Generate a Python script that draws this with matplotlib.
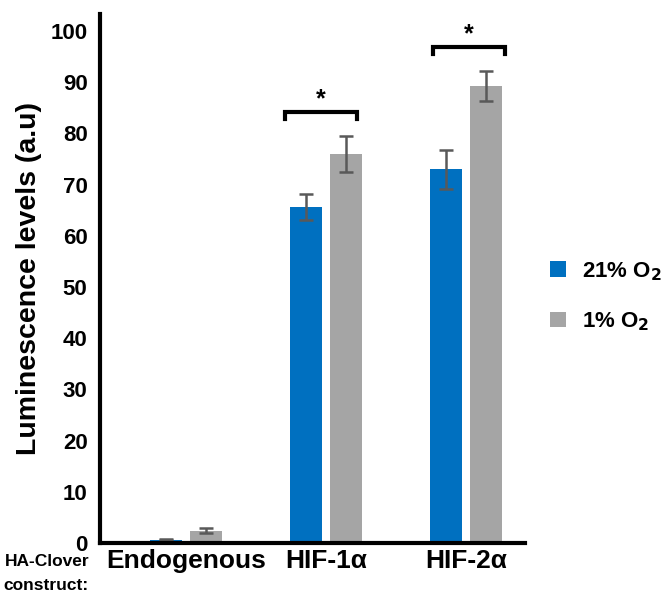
import matplotlib
matplotlib.use("Agg")
import matplotlib.pyplot as plt
import numpy as np

categories = ["Endogenous", "HIF-1\u03b1", "HIF-2\u03b1"]
series_names = ["21% O$_2$", "1% O$_2$"]
normoxia = [0.6, 65.6, 73.0]
normoxia_err = [0.1, 2.6, 3.8]
hypoxia = [2.4, 76.0, 89.3]
hypoxia_err = [0.5, 3.5, 2.9]
yticks = [0, 10, 20, 30, 40, 50, 60, 70, 80, 90, 100]
sig_groups = [1, 2]
sig_shift = [-0.035, 0.02]

BLUE = "#0070C0"
GRAY = "#A5A5A5"
ERR = "#595959"
FONT = ["Liberation Sans", "DejaVu Sans"]
plt.rcParams["font.family"] = FONT
plt.rcParams["font.weight"] = "bold"

fig = plt.figure(figsize=(6.71, 5.93), dpi=100)
W, H = 671, 593
x0, x1 = 100, 525
y0, y1 = 543, 14
ax = fig.add_axes([x0 / W, 1 - y0 / H, (x1 - x0) / W, (y0 - y1) / H])

x = np.arange(len(categories))
bw = 0.23
off = 0.143
ax.bar(x - off, normoxia, bw, color=BLUE, yerr=normoxia_err, capsize=5,
       error_kw=dict(ecolor=ERR, elinewidth=1.8, capthick=1.8), label=series_names[0], zorder=2)
ax.bar(x + off, hypoxia, bw, color=GRAY, yerr=hypoxia_err, capsize=5,
       error_kw=dict(ecolor=ERR, elinewidth=1.8, capthick=1.8), label=series_names[1], zorder=2)

ax.set_xlim(-0.614, 2.42)
ax.set_ylim(0, 103.3)
ax.set_yticks(yticks)
ax.set_yticklabels([str(t) for t in yticks], fontsize=16, fontweight="bold")
ax.set_xticks(x)
ax.set_xticklabels(categories, fontsize=19, fontweight="bold")
ax.tick_params(axis="y", length=0, pad=9)
ax.tick_params(axis="x", length=0, pad=4)
for s in ["top", "right"]:
    ax.spines[s].set_visible(False)
for s in ["left", "bottom"]:
    ax.spines[s].set_linewidth(3)
    ax.spines[s].set_color("black")

ax.set_ylabel("Luminescence levels (a.u)", fontsize=20.5, fontweight="bold", labelpad=6)

# significance brackets
for g, sh in zip(sig_groups, sig_shift):
    top = max(normoxia[g] + normoxia_err[g], hypoxia[g] + hypoxia_err[g])
    yb = top + 4.6
    xl = g - off - bw / 2 + sh
    xr = g + off + bw / 2 + sh
    ax.plot([xl, xl, xr, xr], [yb - 1.4, yb, yb, yb - 1.4], color="black", lw=3,
            solid_joinstyle="miter", clip_on=False)
    ax.text((xl + xr) / 2, yb + 0.2, "*", ha="center", va="bottom", fontsize=18,
            fontweight="bold", clip_on=False)

leg = fig.legend(loc="upper left", bbox_to_anchor=(530 / W, 1 - 240 / H), frameon=False,
                 prop=dict(family=FONT, size=16, weight="bold"), handlelength=0.7,
                 handleheight=0.7, handletextpad=0.75, labelspacing=1.25)

fig.text(47 / W, 1 - 562 / H, "HA-Clover", ha="center", va="center", fontsize=12.5,
         fontweight="bold")
fig.text(46 / W, 1 - 585 / H, "construct:", ha="center", va="center", fontsize=12.5,
         fontweight="bold")

fig.savefig("out.png", dpi=100)
